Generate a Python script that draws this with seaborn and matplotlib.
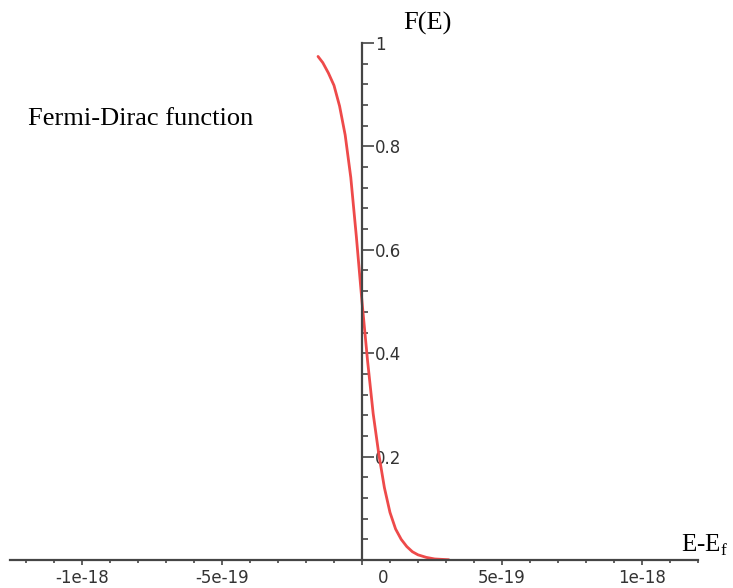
import matplotlib
matplotlib.use("Agg")
import matplotlib.pyplot as plt
import numpy as np
import pandas as pd
import seaborn as sns
from matplotlib.ticker import FixedLocator, MultipleLocator
from matplotlib.transforms import ScaledTranslation

# Fermi-Dirac occupancy versus energy relative to the Fermi level (J)
energy = [-1.57e-19, -1.4e-19, -1.2e-19, -1.0e-19, -0.8e-19, -0.6e-19, -0.4e-19,
          -0.2e-19, 0.0, 0.2e-19, 0.4e-19, 0.6e-19, 0.8e-19, 1.0e-19, 1.2e-19,
          1.4e-19, 1.6e-19, 1.8e-19, 2.0e-19, 2.3e-19, 2.6e-19, 3.1e-19]
occupancy = [0.974, 0.962, 0.942, 0.918, 0.878, 0.822, 0.740, 0.625, 0.500,
             0.385, 0.283, 0.205, 0.140, 0.092, 0.060, 0.040, 0.026, 0.016,
             0.010, 0.005, 0.002, 0.0005]

x_ticks = [-1e-18, -5e-19, 0.0, 5e-19, 1e-18]
x_tick_labels = ["-1e-18", "-5e-19", "0", "5e-19", "1e-18"]
y_ticks = [0.2, 0.4, 0.6, 0.8, 1.0]
y_tick_labels = ["0.2", "0.4", "0.6", "0.8", "1"]

sns.set_theme(style="white")
plt.rcParams["font.family"] = ["DejaVu Sans"]
plt.rcParams["mathtext.fontset"] = "custom"
plt.rcParams["mathtext.rm"] = "Liberation Serif"

W, H = 733, 588
fig = plt.figure(figsize=(W / 100, H / 100), dpi=100)
fig.patch.set_facecolor("white")
ax = fig.add_axes([10 / W, 28 / H, 688 / W, 517 / H])
ax.set_facecolor("white")

df = pd.DataFrame({"E": energy, "F": occupancy})
sns.lineplot(data=df, x="E", y="F", ax=ax, color="#ee4a4a", linewidth=2.0,
             sort=False, zorder=2)

ax.set_xlim(-1.257e-18, 1.2e-18)
ax.set_ylim(0, 1)
ax.set_xlabel("")
ax.set_ylabel("")

# axes crossing at the origin
axis_color = "#454545"
for side in ("top", "right"):
    ax.spines[side].set_visible(False)
ax.spines["left"].set_position(("data", 0))
ax.spines["bottom"].set_position(("data", 0))
for side in ("left", "bottom"):
    ax.spines[side].set_color(axis_color)
    ax.spines[side].set_linewidth(1.6)
    ax.spines[side].set_zorder(3)

ax.xaxis.set_major_locator(FixedLocator(x_ticks))
ax.xaxis.set_minor_locator(MultipleLocator(1e-19))
ax.set_xticks(x_ticks, x_tick_labels)
ax.yaxis.set_major_locator(FixedLocator(y_ticks))
ax.yaxis.set_minor_locator(MultipleLocator(0.04))
ax.set_yticks(y_ticks, y_tick_labels)

ax.tick_params(axis="x", which="major", direction="out", length=3.5, width=1.2,
               color=axis_color, labelsize=12, labelcolor="#333333", pad=3,
               bottom=True)
ax.tick_params(axis="x", which="minor", direction="out", length=2.5, width=1.2,
               color=axis_color, bottom=True)
ax.tick_params(axis="y", which="major", direction="in", length=8.5, width=1.2,
               color=axis_color, labelsize=12, labelcolor="#333333", pad=-9.5,
               left=True)
ax.tick_params(axis="y", which="minor", direction="in", length=4.5, width=1.2,
               color=axis_color, left=True)
for lab in ax.get_yticklabels():
    lab.set_horizontalalignment("left")

# shift the origin label off the vertical axis
for lab in ax.get_xticklabels():
    if lab.get_text() == "0":
        lab.set_transform(lab.get_transform() +
                          ScaledTranslation(0.21, 0, fig.dpi_scale_trans))

serif = ["Liberation Serif", "DejaVu Serif"]
fig.text(28 / W, 1 - 125 / H, "Fermi-Dirac function", family=serif,
         fontsize=19, color="black", ha="left", va="baseline")
fig.text(403 / W, 1 - 30 / H, "F(E)", family=serif, fontsize=19,
         color="black", ha="left", va="baseline")
fig.text(728 / W, 1 - 552 / H, r"E-E$_{\mathrm{f}}$", family=serif,
         fontsize=18, color="black", ha="right", va="baseline")

fig.savefig("out.png", dpi=100, facecolor="white")
